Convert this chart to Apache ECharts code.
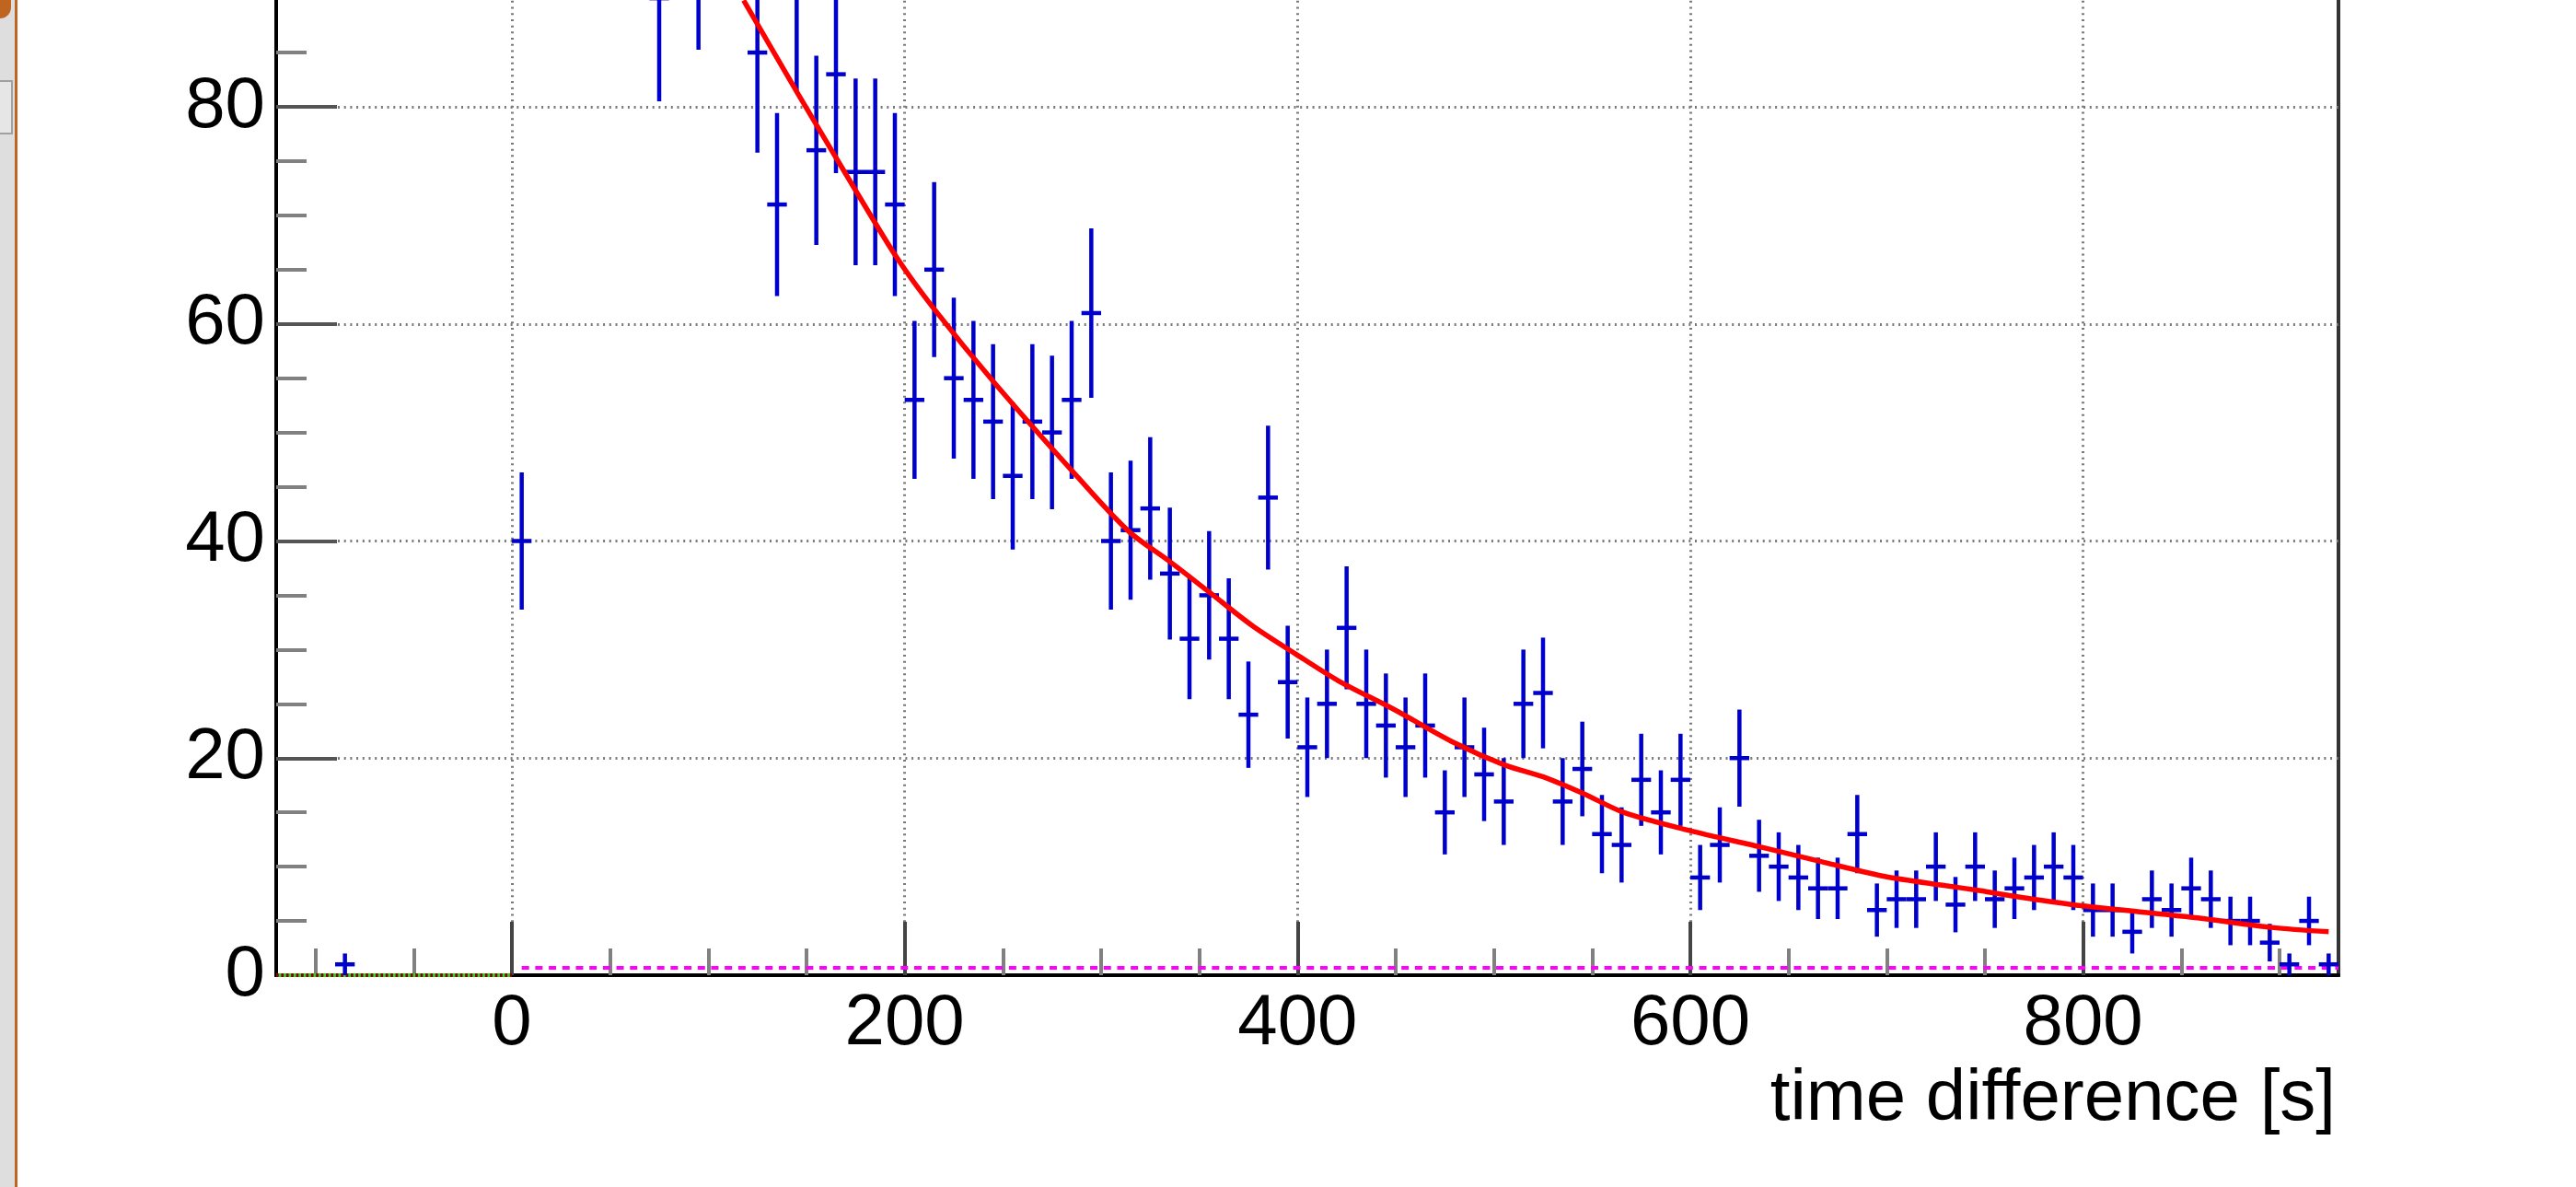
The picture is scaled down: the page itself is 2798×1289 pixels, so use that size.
<!DOCTYPE html>
<html>
<head>
<meta charset="utf-8">
<title>time difference</title>
<script src="https://cdn.jsdelivr.net/npm/echarts@6.0.0/dist/echarts.min.js"></script>
<style>
  html, body { margin: 0; padding: 0; background: #ffffff; }
  #chart { width: 2798px; height: 1289px; }
</style>
</head>
<body>
<div id="chart"></div>
<script>
// Histogram of time differences: bin centres [s] and counts per 10 s bin
const binCenter = [
  -85, 5, 75, 95,
  125, 135, 145, 155, 165, 175, 185, 195, 205, 215, 225, 235, 245, 255, 265, 275, 285, 295,
  305, 315, 325, 335, 345, 355, 365, 375, 385, 395, 405, 415, 425, 435, 445, 455, 465, 475, 485, 495,
  505, 515, 525, 535, 545, 555, 565, 575, 585, 595, 605, 615, 625, 635, 645, 655, 665, 675, 685, 695,
  705, 715, 725, 735, 745, 755, 765, 775, 785, 795, 805, 815, 825, 835, 845, 855, 865, 875, 885, 895,
  905, 915, 925
];
const counts = [
  1, 40, 90, 95,
  85, 71, 91, 76, 83, 74, 74, 71, 53, 65, 55, 53, 51, 46, 51, 50, 53, 61,
  40, 41, 43, 37, 31, 35, 31, 24, 44, 27, 21, 25, 32, 25, 23, 21, 23, 15, 21, 18.5,
  16, 25, 26, 16, 19, 13, 12, 18, 15, 18, 9, 12, 20, 11, 10, 9, 8, 8, 13, 6,
  7, 7, 10, 6.5, 10, 7, 8, 9, 10, 9, 6, 6, 4, 7, 6, 8, 7, 5, 5, 3,
  1, 5, 1
];
const binWidth = 10;

// Fitted decay curve, sampled along its drawn path
const fitX = [118, 146, 175, 196, 214, 246, 288, 314, 335, 355, 377, 399, 421, 449, 480, 505, 527, 546,
              566, 599, 636, 668, 699, 730, 747, 771, 799, 857, 896, 925];
const fitY = [89.8, 81.1, 72.3, 66.1, 61.6, 54.5, 45.9, 40.9, 38.1, 35.3, 32.2, 29.6, 27.1, 24.5, 21.4, 19.4, 18.15, 16.7,
              15.0, 13.35, 11.8, 10.4, 9.1, 8.25, 7.8, 7.1, 6.4, 5.3, 4.4, 4.0];

// Flat background level and the empty pre-zero region
const bgX = [5, 930];
const bgY = [0.68, 0.68];
const preX = [-120, 0];
const preY = [0, 0];

// Axis ticks
const xMajor = [0, 200, 400, 600, 800];
const xMinor = [-100, -50, 50, 100, 150, 250, 300, 350, 450, 500, 550, 650, 700, 750, 850, 900];
const xTitle = 'time difference [s]';

const FONT = '"Liberation Sans", Arial, Helvetica, sans-serif';
const BLUE = '#0000cc';

const histData = binCenter.map((x, i) => [x, counts[i]]);
const fitData = fitX.map((x, i) => [x, fitY[i]]);
const bgData = bgX.map((x, i) => [x, bgY[i]]);
const preData = preX.map((x, i) => [x, preY[i]]);

// Each bin: vertical Poisson error bar plus horizontal bar spanning the bin width
function renderErrorCross(params, api) {
  const x = api.value(0);
  const v = api.value(1);
  const e = Math.sqrt(v);
  const top = api.coord([x, v + e]);
  const bot = api.coord([x, Math.max(v - e, 0)]);
  const l = api.coord([x - binWidth / 2, v]);
  const r = api.coord([x + binWidth / 2, v]);
  const style = { stroke: BLUE, lineWidth: 4.5, lineCap: 'butt' };
  return {
    type: 'group',
    children: [
      { type: 'line', shape: { x1: top[0], y1: top[1], x2: bot[0], y2: bot[1] }, style: style },
      { type: 'line', shape: { x1: l[0], y1: l[1], x2: r[0], y2: r[1] }, style: style }
    ]
  };
}

const gridDash = { color: '#7a7a7a', width: 3, type: [2, 4.7] };

const chart = echarts.init(document.getElementById('chart'), null, { renderer: 'canvas' });
chart.setOption({
  animation: false,
  backgroundColor: '#ffffff',
  grid: {
    left: 300, right: 258, bottom: 230, top: -119.75,
    containLabel: false, outerBoundsMode: 'none',
    show: true, borderColor: '#333333', borderWidth: 4, backgroundColor: 'transparent'
  },
  xAxis: [
    {
      type: 'value', min: -120, max: 930, position: 'bottom',
      axisLine: { show: true, onZero: false, lineStyle: { color: '#000000', width: 4 } },
      axisTick: { show: true, inside: true, length: 58, customValues: xMajor, lineStyle: { color: '#444444', width: 4 } },
      axisLabel: { show: true, customValues: xMajor, margin: 14, color: '#000000', fontSize: 78, fontFamily: FONT },
      splitLine: { show: true, lineStyle: gridDash },
      minorTick: { show: false }
    },
    {
      type: 'value', min: -120, max: 930, position: 'bottom',
      axisLine: { show: false },
      axisTick: { show: true, inside: true, length: 29, customValues: xMinor, lineStyle: { color: '#808080', width: 4 } },
      axisLabel: { show: false },
      splitLine: { show: false }
    }
  ],
  yAxis: {
    type: 'value', min: 0, max: 100, interval: 20,
    axisLine: { show: true, onZero: false, lineStyle: { color: '#000000', width: 4 } },
    axisTick: { show: true, inside: true, length: 66, lineStyle: { color: '#555555', width: 4 } },
    minorTick: { show: true, splitNumber: 4, length: 33, lineStyle: { color: '#808080', width: 4 } },
    axisLabel: { show: true, margin: 12, color: '#000000', fontSize: 78, fontFamily: FONT },
    splitLine: { show: true, lineStyle: gridDash }
  },
  graphic: [
    // window edge on the left
    { type: 'rect', left: 0, top: 0, shape: { width: 16, height: 1289 }, style: { fill: '#dedede' }, z: 100 },
    { type: 'rect', left: 16, top: 0, shape: { width: 3, height: 1289 }, style: { fill: '#c0651f' }, z: 100 },
    { type: 'rect', left: 0, top: 0, shape: { width: 12, height: 20, r: [0, 0, 12, 0] }, style: { fill: '#c0651f' }, z: 100 },
    { type: 'rect', left: -2, top: 87, shape: { width: 14, height: 57 }, style: { fill: '#e6e6e6', stroke: '#a0a0a0', lineWidth: 2 }, z: 101 },
    {
      type: 'text', x: 2537, y: 1194, z: 100,
      style: { text: xTitle, font: '78px ' + FONT, fill: '#000000', align: 'right', verticalAlign: 'middle' }
    }
  ],
  series: [
    {
      type: 'line', xAxisIndex: 0, data: bgData, symbol: 'none', silent: true, z: 3,
      lineStyle: { color: '#ff00ff', width: 4, type: [8, 6.7], cap: 'butt' }
    },
    {
      type: 'line', xAxisIndex: 0, data: preData, symbol: 'none', silent: true, z: 3,
      lineStyle: { color: '#22dd22', width: 4 }
    },
    {
      type: 'line', xAxisIndex: 0, data: preData, symbol: 'none', silent: true, z: 4,
      lineStyle: { color: '#8b0000', width: 4, type: [2.7, 2.7], cap: 'butt' }
    },
    {
      type: 'custom', xAxisIndex: 0, data: histData, renderItem: renderErrorCross, clip: true, z: 5,
      encode: { x: 0, y: 1 }
    },
    {
      type: 'line', xAxisIndex: 0, data: fitData, symbol: 'none', smooth: 0.3, silent: true, z: 6, clip: true,
      lineStyle: { color: '#ff0000', width: 5.5 }
    }
  ]
});
</script>
</body>
</html>
